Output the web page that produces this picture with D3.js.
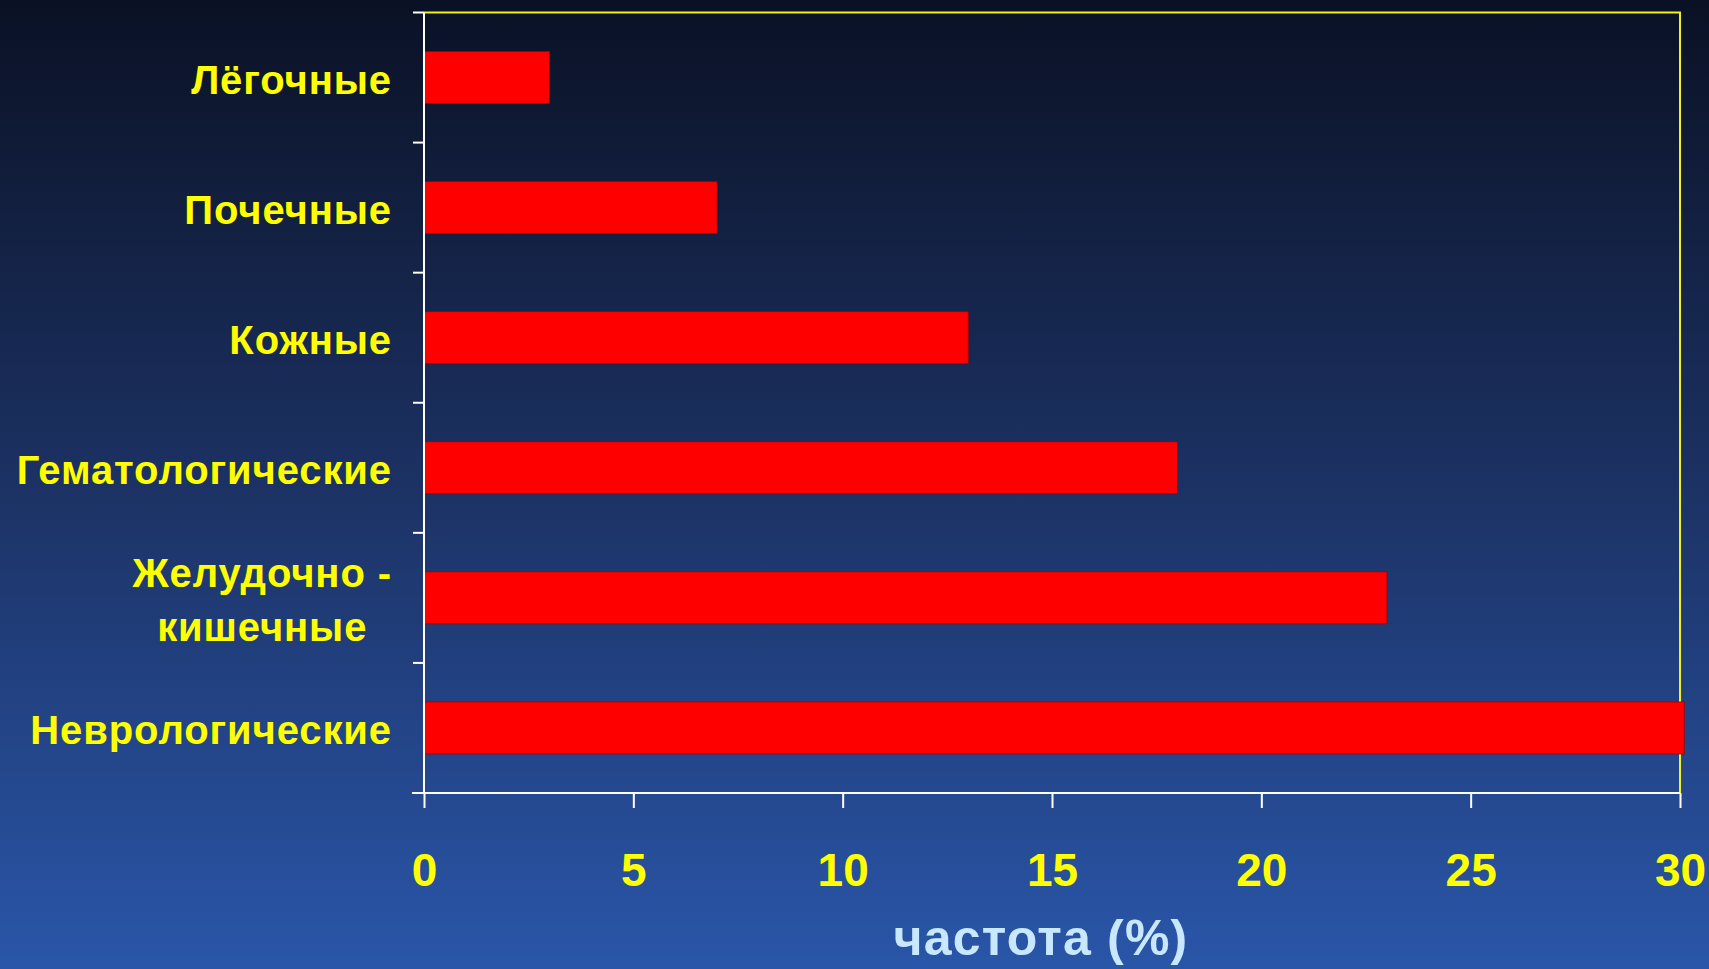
<!DOCTYPE html>
<html>
<head>
<meta charset="utf-8">
<script src="https://cdn.jsdelivr.net/npm/d3@7"></script>
<style>
  html, body { margin: 0; padding: 0; background: #0a1020; }
  svg { display: block; }
</style>
</head>
<body>
<svg id="chart" width="1709" height="969"></svg>
<script>
// Categories (top to bottom) and their frequency, %
const categories = [
  ["Лёгочные"],
  ["Почечные"],
  ["Кожные"],
  ["Гематологические"],
  ["Желудочно -", "кишечные"],
  ["Неврологические"]
];
const values = [3, 7, 13, 18, 23, 30.1];
const xTicks = [0, 5, 10, 15, 20, 25, 30];
const xTitle = "частота (%)";

const W = 1709, H = 969;
const plot = { left: 424, right: 1680, top: 12.5, bottom: 793 };

const svg = d3.select("#chart");

// Background gradient
const defs = svg.append("defs");
const grad = defs.append("linearGradient")
  .attr("id", "bg").attr("x1", 0).attr("y1", 0).attr("x2", 0).attr("y2", 1);
grad.append("stop").attr("offset", 0).attr("stop-color", "#0a1124");
grad.append("stop").attr("offset", 0.5).attr("stop-color", "#1c3264");
grad.append("stop").attr("offset", 1).attr("stop-color", "#2a56a9");
svg.append("rect").attr("width", W).attr("height", H).attr("fill", "url(#bg)");

const x = d3.scaleLinear().domain([0, 30]).range([plot.left, plot.right]);
const y = d3.scaleBand()
  .domain(d3.range(categories.length))
  .range([plot.top, plot.bottom])
  .paddingInner(0.6).paddingOuter(0.3);

// Yellow frame on top and right
svg.append("path")
  .attr("d", `M${plot.left},${plot.top}H${plot.right}V${plot.bottom}`)
  .attr("fill", "none").attr("stroke", "#f0f020").attr("stroke-width", 2);

// Bars
svg.append("g").selectAll("rect")
  .data(values)
  .join("rect")
  .attr("x", x(0))
  .attr("y", (d, i) => y(i))
  .attr("width", d => x(d) - x(0))
  .attr("height", y.bandwidth())
  .attr("fill", "#ff0000")
  .attr("stroke", "#a00000")
  .attr("stroke-width", 0.8);

// Left axis: line and outward ticks at band boundaries
const bandStep = (plot.bottom - plot.top) / categories.length;
const yAxis = svg.append("g").attr("stroke", "#ffffff").attr("stroke-width", 2);
yAxis.append("line")
  .attr("x1", plot.left).attr("x2", plot.left)
  .attr("y1", plot.top).attr("y2", plot.bottom);
yAxis.selectAll("line.tick")
  .data(d3.range(categories.length + 1))
  .join("line").attr("class", "tick")
  .attr("x1", plot.left - 11).attr("x2", plot.left)
  .attr("y1", i => plot.top + i * bandStep)
  .attr("y2", i => plot.top + i * bandStep);

// Bottom axis
const xAxis = d3.axisBottom(x).tickValues(xTicks).tickSize(15).tickSizeOuter(0).tickPadding(45);
const gx = svg.append("g").attr("transform", `translate(0,${plot.bottom})`).call(xAxis);
gx.select(".domain").attr("stroke", "#ffffff").attr("stroke-width", 2)
  .attr("d", `M${plot.left - 12},0H${plot.right}`);
gx.selectAll(".tick line").attr("stroke", "#ffffff").attr("stroke-width", 2);
gx.selectAll(".tick text")
  .attr("fill", "#ffff00")
  .attr("font-family", "'Liberation Sans', Arial, sans-serif")
  .attr("font-weight", "bold")
  .attr("font-size", 46)
  .attr("dy", "0.71em");

// Category labels, right-aligned; multi-line labels centre their lines within the block
const labelRight = 392;
const lineGap = 54;
const labels = svg.append("g")
  .attr("font-family", "'Liberation Sans', Arial, sans-serif")
  .attr("font-weight", "bold")
  .attr("font-size", 40)
  .attr("letter-spacing", 0.9)
  .attr("fill", "#ffff00");

categories.forEach((lines, i) => {
  const cy = plot.top + (i + 0.5) * bandStep;
  const g = labels.append("g");
  const texts = lines.map((ln, k) => g.append("text")
    .attr("y", cy + 16 + (k - (lines.length - 1) / 2) * lineGap)
    .text(ln));
  const widths = texts.map(t => t.node().getComputedTextLength());
  const maxW = d3.max(widths);
  texts.forEach((t, k) => {
    t.attr("x", labelRight - maxW + (maxW - widths[k]) / 2);
  });
});

// Axis title
svg.append("text")
  .attr("x", 1041).attr("y", 955)
  .attr("text-anchor", "middle")
  .attr("font-family", "'Liberation Sans', Arial, sans-serif")
  .attr("font-weight", "bold")
  .attr("font-size", 50)
  .attr("letter-spacing", 1.2)
  .attr("fill", "#c8e8ff")
  .text(xTitle);
</script>
</body>
</html>
